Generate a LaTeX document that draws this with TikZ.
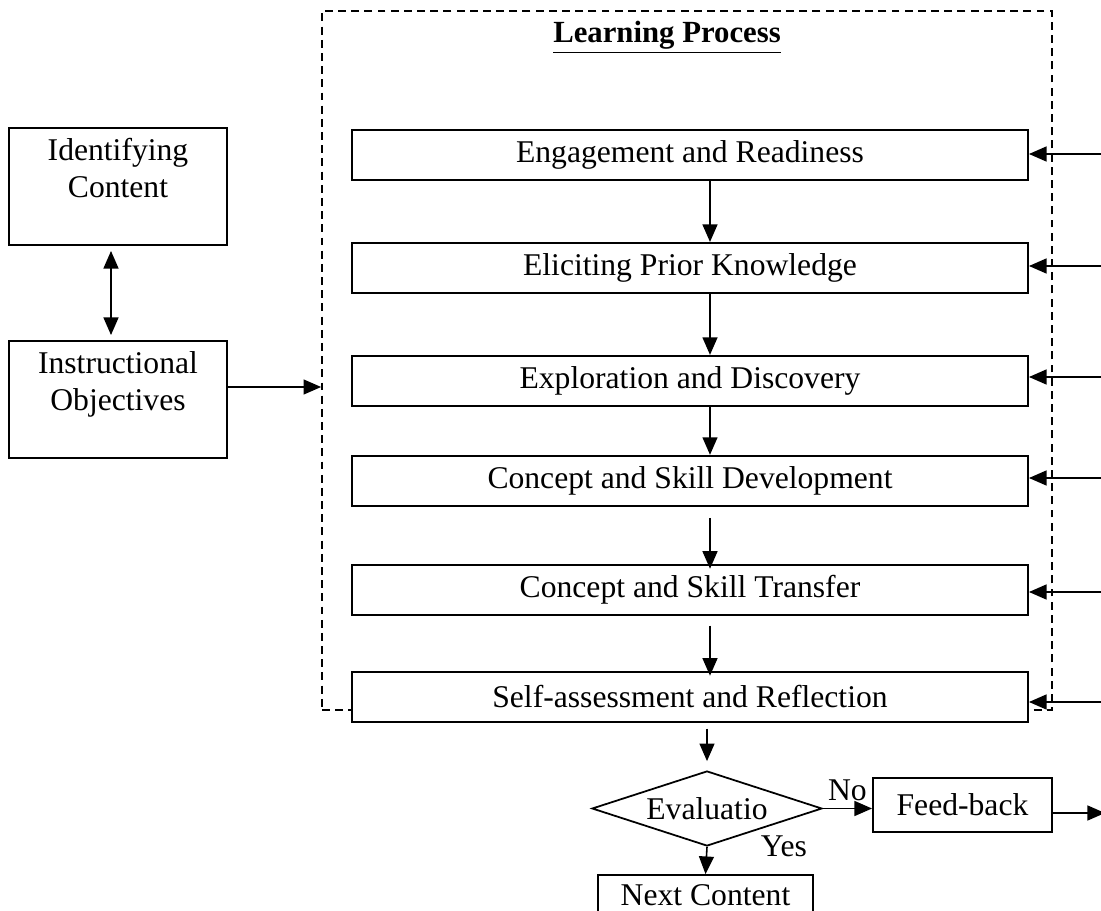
\documentclass[tikz,border=0pt]{standalone}
\usepackage{fontspec}
\setmainfont{Liberation Serif}
\usepackage{tikz}
\usetikzlibrary{positioning, arrows.meta, shapes.geometric}

\begin{document}
\begin{tikzpicture}[
  font=\fontsize{18}{21}\selectfont,
  >={Triangle[length=10pt, width=8.5pt]},
  stage/.style={draw, line width=1.1pt, fill=white, minimum width=13.52cm,
    minimum height=1.0cm, inner sep=0pt, align=center},
  sidebox/.style={draw, line width=1.1pt, minimum width=4.36cm,
    minimum height=2.34cm, inner sep=2pt, align=center},
  lpframe/.style={draw, dash pattern=on 4.5pt off 3pt, line width=1pt,
    minimum width=14.6cm, minimum height=13.98cm, inner sep=0pt},
  decide/.style={draw, diamond, aspect=3, line width=1pt, minimum width=4.6cm,
    minimum height=1.5cm, inner sep=0pt},
  arrow/.style={->, line width=0.9pt},
]
  \useasboundingbox (0,0) rectangle (22.02,-18.22);
  \clip (0,0) rectangle (22.02,-18.22);

  % Dashed frame round the learning process
  \node[lpframe] (lp) at (13.74,-7.21) {};
  \node[anchor=base, font=\fontsize{17.5}{21}\selectfont\bfseries] (title)
     at (13.34,-0.86) {\underline{Learning Process}};

  % Stages of the learning process
  \node[stage] (b1) at (13.8,-3.1) {Engagement and Readiness};
  \node[stage, below=1.22cm of b1] (b2) {Eliciting Prior Knowledge};
  \node[stage, below=1.22cm of b2] (b3) {Exploration and Discovery};
  \node[stage, below=0.96cm of b3] (b4) {Concept and Skill Development};
  \node[stage, below=1.14cm of b4] (b5) {Concept and Skill Transfer};
  \node[stage, below=1.10cm of b5] (b6) {Self-assessment and Reflection};

  \draw[arrow] ([xshift=0.4cm]b1.south) -- ([xshift=0.4cm]b2.north);
  \draw[arrow] ([xshift=0.4cm]b2.south) -- ([xshift=0.4cm]b3.north);
  \draw[arrow] ([xshift=0.4cm]b3.south) -- ([xshift=0.4cm]b4.north);
  \draw[arrow] ([xshift=0.4cm, yshift=-0.22cm]b4.south) -- ([xshift=0.4cm, yshift=-0.1cm]b5.north);
  \draw[arrow] ([xshift=0.4cm, yshift=-0.2cm]b5.south) -- ([xshift=0.4cm, yshift=-0.1cm]b6.north);

  % Inputs coming in from the right
  \foreach \i/\y in {1/-3.08, 2/-5.32, 3/-7.54, 4/-9.56, 5/-11.84, 6/-14.04} {
    \coordinate (in\i) at (22.1,\y);
    \draw[arrow] (in\i) -- (in\i -| b\i.east);
  }

  % Content and objectives
  \node[sidebox] (ident) at (2.36,-3.73) {Identifying\\Content\\};
  \node[sidebox] (instr) at (2.36,-7.99) {Instructional\\Objectives\\};

  \draw[<->, line width=0.9pt] ([xshift=-0.14cm, yshift=-0.1cm]ident.south)
     -- ([xshift=-0.14cm, yshift=0.1cm]instr.north);
  \draw[arrow] ([yshift=0.25cm]instr.east) -- ([yshift=0.25cm]instr.east -| lp.west);

  % Evaluation step
  \node[decide] (eval) at (14.14,-16.17) {Evaluatio};
  \node[draw, line width=1.1pt, minimum width=3.58cm, minimum height=1.08cm]
     (fb) at (19.25,-16.1) {Feed-back};
  \node[draw, line width=1.1pt, minimum width=4.3cm, minimum height=0.8cm,
     text depth=0pt] (next) at (14.11,-17.9) {Next Content};
  \coordinate (fbout) at (22.1,-16.26);

  \draw[arrow, shorten <=0.12cm, shorten >=0.18cm] (b6.south -| eval.north) -- (eval.north);
  \draw[arrow] (eval.east) -- (eval.east -| fb.west)
     node[midway, above=4pt, inner sep=0pt] (no) {No};
  \draw[arrow] ([yshift=-0.16cm]fb.east) -- (fbout);
  \draw[arrow] (eval.south) -- (next.north);
  \node[anchor=base] (yes) at (15.68,-17.12) {Yes};
\end{tikzpicture}
\end{document}
